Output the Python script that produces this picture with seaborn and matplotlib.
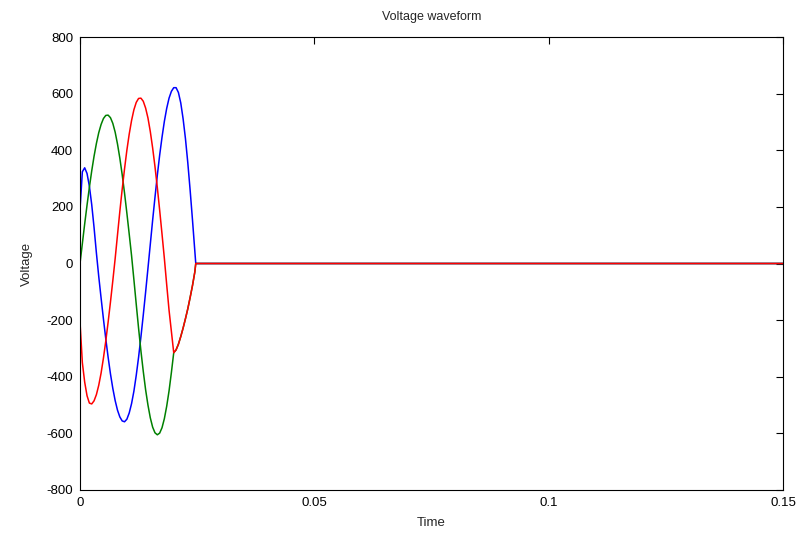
import numpy as np
import pandas as pd
import matplotlib
matplotlib.use('Agg')
import matplotlib.pyplot as plt
import seaborn as sns

# sample times (s)
time = [0, 0.0005, 0.001, 0.0015, 0.002, 0.0025, 0.003, 0.0035, 0.004, 0.0045,
        0.005, 0.0055, 0.006, 0.0065, 0.007, 0.0075, 0.008, 0.0085, 0.009, 0.0095,
        0.01, 0.0105, 0.011, 0.0115, 0.012, 0.0125, 0.013, 0.0135, 0.014, 0.0145,
        0.015, 0.0155, 0.016, 0.0165, 0.017, 0.0175, 0.018, 0.0185, 0.019, 0.0195,
        0.02, 0.0205, 0.021, 0.0215, 0.022, 0.0225, 0.023, 0.0235, 0.024, 0.0245,
        0.0247, 0.15]

# phase voltages --->
phase_blue = [190, 324, 338, 318, 273, 208, 127, 37, -46, -122,
              -196, -266, -331, -390, -441, -484, -518, -542, -556, -559,
              -550, -528, -495, -451, -395, -331, -259, -182, -101, -17,
              68, 153, 234, 312, 383, 446, 502, 548, 584, 608,
              621, 621, 604, 567, 511, 441, 356, 259, 154, 44,
              0, 0]

phase_green = [0, 70, 140, 206, 269, 327, 379, 424, 462, 491,
               512, 523, 524, 515, 495, 464, 422, 372, 314, 249,
               178, 104, 28, -57, -144, -229, -309, -381, -446, -500,
               -545, -578, -598, -605, -599, -580, -548, -504, -450, -385,
               -315, -305, -285, -258, -228, -195, -160, -120, -78, -30,
               0, 0]

phase_red = [-206, -350, -419, -467, -493, -496, -485, -463, -430, -387,
             -334, -274, -207, -136, -61, 17, 101, 184, 262, 334,
             400, 457, 505, 543, 569, 583, 584, 573, 549, 514,
             466, 408, 342, 268, 188, 104, 18, -75, -165, -240,
             -315, -305, -285, -258, -228, -195, -160, -120, -78, -30,
             0, 0]

x_ticks = [0, 0.05, 0.1, 0.15]
x_tick_labels = ['0', '0.05', '0.1', '0.15']
y_ticks = [-800, -600, -400, -200, 0, 200, 400, 600, 800]

sns.set_style('white')
plt.rcParams['font.family'] = ['Liberation Sans', 'DejaVu Sans']
plt.rcParams['axes.unicode_minus'] = False

fig = plt.figure(figsize=(8.05, 5.44), dpi=100)
ax = fig.add_axes([80/805, 1 - 490/544, 703/805, 453/544])

for values, col in [(phase_blue, '#0000ff'), (phase_green, '#008000'), (phase_red, '#ff0000')]:
    sns.lineplot(x=time, y=values, color=col, linewidth=1.1, sort=False,
                 estimator=None, ax=ax)

ax.set_xlim(0, 0.15)
ax.set_ylim(-800, 800)
ax.set_xticks(x_ticks)
ax.set_xticklabels(x_tick_labels)
ax.set_yticks(y_ticks)
ax.tick_params(direction='in', top=True, right=True, length=5, width=0.8,
               labelsize=9.5, pad=5, colors='black')
for s in ax.spines.values():
    s.set_color('black')
    s.set_linewidth(0.8)

ax.set_title('Voltage waveform', fontsize=9, pad=12)
ax.set_xlabel('Time', fontsize=9.5, labelpad=6)
ax.set_ylabel('Voltage', fontsize=9.5, labelpad=10)

fig.savefig('out.png', dpi=100)
